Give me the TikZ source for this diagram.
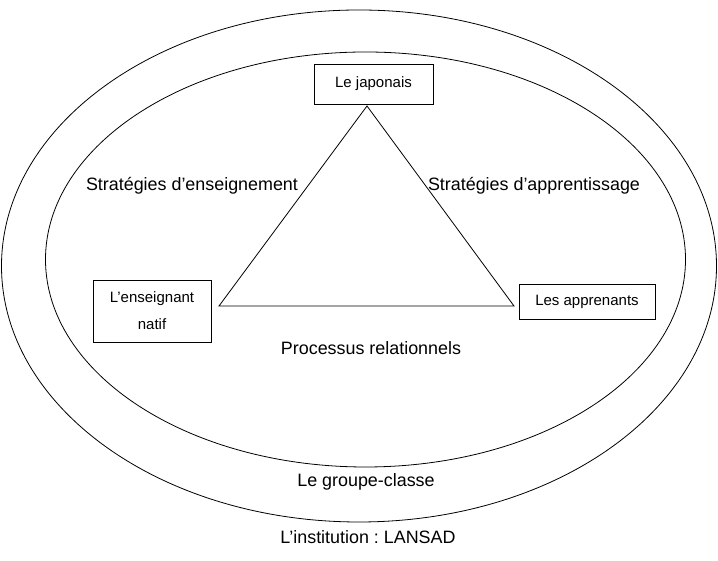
\documentclass[tikz,border=0pt]{standalone}
\usepackage{fontspec}
\setmainfont{Liberation Sans}
\frenchspacing
\begin{document}
\begin{tikzpicture}[x=1pt,y=1pt,
  lbl/.style={font=\fontsize{17.9}{21}\selectfont, inner sep=0pt},
  boxlbl/.style={draw, line width=0.8pt, font=\fontsize{15}{27}\selectfont, align=center, inner sep=0pt},
  ring/.style={draw, line width=0.8pt}]
\useasboundingbox (0,0) rectangle (718,561);
\draw[ring] (359,295) ellipse [x radius=357.5, y radius=256];
\draw[ring] (365.5,301.5) ellipse [x radius=320, y radius=207.5];
\node[boxlbl, minimum width=119pt, minimum height=40pt] (jap) at (373.5,477) {Le japonais};
\node[boxlbl, minimum width=118pt, minimum height=62pt] (ens) at (152,250) {L’enseignant\\natif};
\node[boxlbl, minimum width=136pt, minimum height=35pt] (app) at (587,259.5) {Les apprenants};
\coordinate (A) at (367,455);
\coordinate (B) at (219,255);
\coordinate (C) at (514,255);
\draw[line width=0.8pt, line join=miter] (A) -- (B) -- (C) -- cycle;
\node[lbl] (se) at (192,375) {Stratégies d’enseignement};
\node[lbl] (sa) at (534,375) {Stratégies d’apprentissage};
\node[lbl] (pr) at (371,213) {Processus relationnels};
\node[lbl] (gc) at (366,79) {Le groupe-classe};
\node[lbl] (in) at (368,24) {L’institution : LANSAD};
\end{tikzpicture}
\end{document}
